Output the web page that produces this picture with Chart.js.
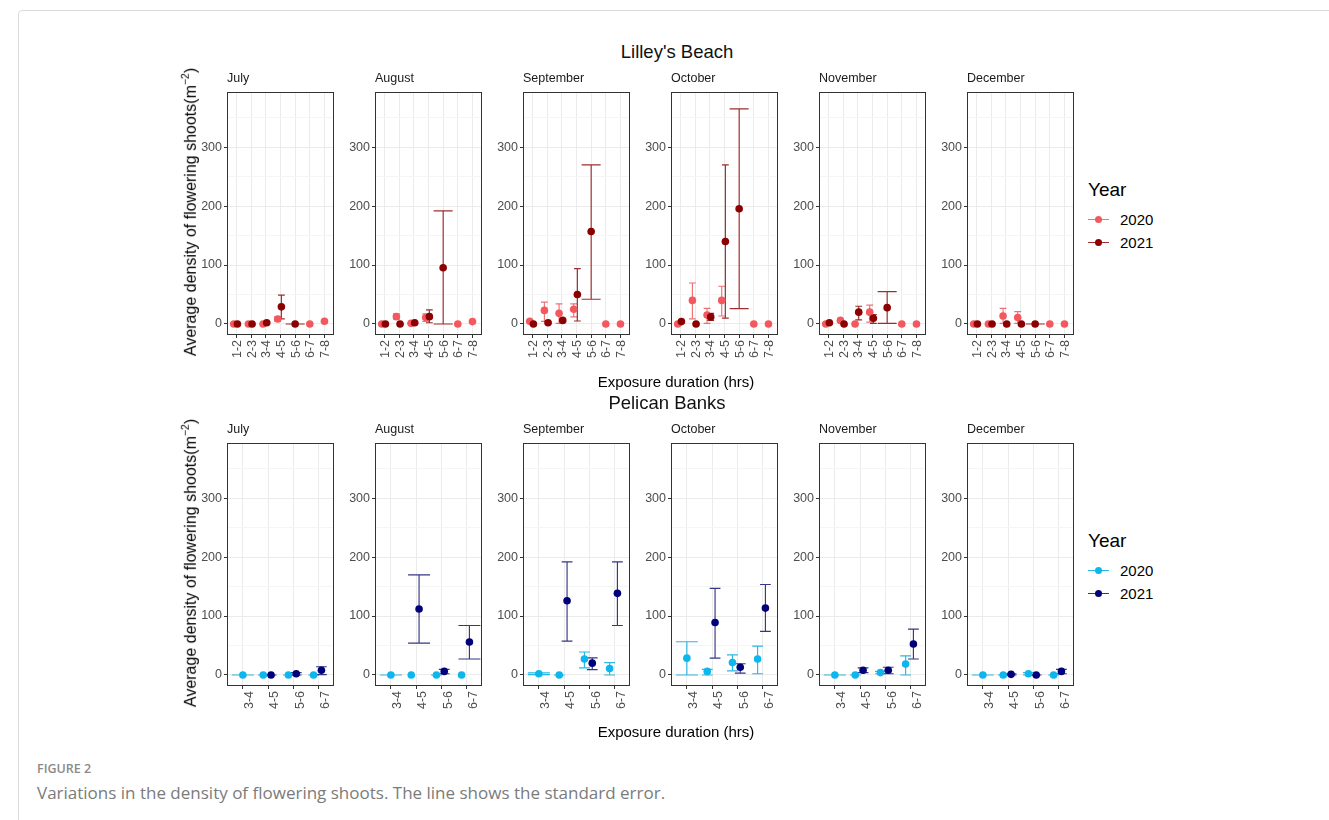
<!DOCTYPE html>
<html>
<head>
<meta charset="utf-8">
<title>Flowering shoot density</title>
<script src="https://cdn.jsdelivr.net/npm/chart.js@4.4.1/dist/chart.umd.min.js"></script>
<style>
  html, body { margin: 0; padding: 0; background: #fff; }
  body { width: 1329px; height: 820px; position: relative; overflow: hidden;
         font-family: "Liberation Sans", Arial, sans-serif; }
  .frame { position: absolute; left: 18px; top: 10px; width: 1400px; height: 900px;
           border: 1px solid #dcdcdc; border-radius: 4px; }
  .t { position: absolute; white-space: nowrap; line-height: 1; color: #000; }
  .site { font-size: 18.5px; color: #111; }
  .strip { font-size: 12.5px; color: #1a1a1a; }
  .axtitle { font-size: 15px; color: #000; }
  .ytitle { font-size: 16px; color: #000; }
  .ytitle sup { font-size: 10.5px; position: relative; top: -1px; }
  .legtitle { font-size: 19px; color: #000; }
  .legitem { font-size: 15px; color: #000; }
  .key { position: absolute; width: 21px; height: 10px; transform: translate(0,-50%); }
  .key .ln { position: absolute; left: 0; right: 0; top: 4.5px; height: 1.2px; }
  .key .dot { position: absolute; left: 7px; top: 1.5px; width: 7px; height: 7px; border-radius: 50%; }
  .figlab { font-family: "Open Sans", sans-serif; font-size: 12.5px; font-weight: 600; color: #8a8a8a; }
  .caption { font-family: "Open Sans", sans-serif; font-size: 17px; font-weight: 400; color: #7b7b7b; }
  .panel { position: absolute; }
</style>
</head>
<body>
<div class="frame"></div>
<script>
// ---- categories -----------------------------------------------------------
const months = ['July', 'August', 'September', 'October', 'November', 'December'];
const lilleyDurations = ['1-2', '2-3', '3-4', '4-5', '5-6', '6-7', '7-8'];
const pelicanDurations = ['3-4', '4-5', '5-6', '6-7'];
const years = ['2020', '2021'];
const yTickValues = [0, 100, 200, 300];
const yMinorValues = [50, 150, 250, 350];

// ---- Lilley's Beach: mean density (m^-2), one row per month --------------
const lilley2020Mean = [
  [0, 0, 0, 8.5, null, 0, 4.5],
  [0, 12.4, 1, 11, null, 0, 4],
  [4.5, 23, 18, 25, null, 0, 0],
  [0, 40, 15, 40, null, 0, 0],
  [0, 6, 0, 20, null, 0, 0],
  [0, 0, 13.5, 11, null, 0, 0]
];
const lilley2020Low = [
  [0, 0, 0, 4.5, null, null, null],
  [0, 8, 0, 4.5, null, null, null],
  [3, 4.5, 1, 12, null, null, null],
  [0, 8.5, 1, 13.5, null, null, null],
  [0, 4, 0, 3, null, null, null],
  [0, 0, 1, 1, null, null, null]
];
const lilley2020High = [
  [0, 0, 0, 12.5, null, null, null],
  [0, 17, 2, 17, null, null, null],
  [6, 37, 34, 34, null, null, null],
  [0, 69.5, 26.5, 64, null, null, null],
  [0, 8, 0, 32, null, null, null],
  [0, 0, 26.5, 21, null, null, null]
];
const lilley2021Mean = [
  [0, 0, 2, 29, 0, null, null],
  [0, 0, 2, 12.4, 95.5, null, null],
  [0, 2, 6, 50, 157, null, null],
  [4, 0, 12, 140, 195.5, null, null],
  [2, 0, 20, 9.6, 27.7, null, null],
  [0, 0, 0, 0, 0, null, null]
];
const lilley2021Low = [
  [0, 0, 1, 8.5, 0, null, null],
  [0, 0, 1, 2, 0, null, null],
  [0, 1, 4, 5, 42, null, null],
  [2, 0, 6, 10, 26, null, null],
  [1, 0, 7, 1, 1, null, null],
  [0, 0, 0, 0, 0, null, null]
];
const lilley2021High = [
  [0, 0, 4, 49, 0, null, null],
  [0, 0, 3, 24, 192, null, null],
  [0, 4, 8, 94, 270, null, null],
  [6, 0, 18, 270, 365, null, null],
  [3, 0, 30, 16, 55, null, null],
  [0, 0, 0, 0, 0, null, null]
];

// ---- Pelican Banks: mean density (m^-2), one row per month ---------------
const pelican2020Mean = [
  [0, 0, 0, 0],
  [0, 0, 0, 0],
  [2, 0, 27, 11],
  [28.5, 6, 21, 27],
  [0, 0, 4, 18.4],
  [0, 0, 2, 0]
];
const pelican2020Low = [
  [0, 0, 0, 0],
  [0, null, 0, null],
  [0.5, 0, 12, 0],
  [0, 0, 7, 2],
  [0, 0, 2, 0],
  [0, 0, 0, 0]
];
const pelican2020High = [
  [0, 0, 0, 0],
  [0, null, 0, null],
  [3.5, 0, 39, 21],
  [56.4, 9.5, 34, 49],
  [0, 0, 6, 32.4],
  [0, 0, 4, 0]
];
const pelican2021Mean = [
  [null, 0, 2, 8],
  [null, 112, 6, 56],
  [null, 126, 20, 138.5],
  [null, 89, 13, 113.5],
  [null, 8, 8, 52.5],
  [null, 1, 0, 6]
];
const pelican2021Low = [
  [null, 0, 0, 0.5],
  [null, 54, 2, 27],
  [null, 57.5, 9, 84],
  [null, 28.5, 3, 74],
  [null, 4, 2, 27],
  [null, 0, 0, 2]
];
const pelican2021High = [
  [null, 0, 4, 14],
  [null, 170, 9.5, 84],
  [null, 192, 29, 192],
  [null, 147, 19, 153.6],
  [null, 12, 13, 77.7],
  [null, 2, 0, 9.5]
];

// ---- styling & layout -----------------------------------------------------
const siteStyles = [
  { name: "Lilley's Beach", cats: lilleyDurations, boxTop: 92,
    colors: ['#f2585d', '#8b0000'], errColors: ['rgba(236,88,94,0.85)', 'rgba(139,10,10,0.85)'],
    dodge: [-0.19, 0.06], capPair: 3.4, capSolo: 9.5, xMin: 0.35, xMax: 7.65, labelOffset: 1,
    mean: [lilley2020Mean, lilley2021Mean], low: [lilley2020Low, lilley2021Low], high: [lilley2020High, lilley2021High],
    titleX: 677, titleY: 52, xTitleY: 381, legendY: 189 },
  { name: 'Pelican Banks', cats: pelicanDurations, boxTop: 443,
    colors: ['#0db6ec', '#00007a'], errColors: ['rgba(16,176,226,0.9)', 'rgba(20,20,110,0.85)'],
    dodge: [-0.19, 0.12], capPair: 5.4, capSolo: 11, xMin: 0.37, xMax: 4.62, labelOffset: 7,
    mean: [pelican2020Mean, pelican2021Mean], low: [pelican2020Low, pelican2021Low], high: [pelican2020High, pelican2021High],
    titleX: 667, titleY: 403, xTitleY: 731, legendY: 540 }
];
const boxLeft0 = 227, boxStep = 147.9, boxW = 107, boxH = 243;
const padL = 45, padR = 10, padT = 10, axisH = 40;
const yMin = -18.75, yMax = 393.75;
const tickFont = { family: '"Liberation Sans", Arial, sans-serif', size: 12.5 };

function addText(html, x, y, cls, transform) {
  const d = document.createElement('div');
  d.className = 't ' + cls;
  d.innerHTML = html;
  d.style.left = x + 'px';
  d.style.top = y + 'px';
  d.style.transform = transform;
  document.body.appendChild(d);
  return d;
}

// error bars are drawn underneath the points, straight from the scales
const errorBarPlugin = {
  id: 'errorBars',
  beforeDatasetsDraw(chart) {
    const { ctx, scales } = chart;
    const xs = scales.x, ys = scales.y;
    ctx.save();
    ctx.lineWidth = 1.15;
    chart.data.datasets.slice().reverse().forEach(ds => {
      ctx.strokeStyle = ds.errorColor;
      ds.errorBars.forEach(b => {
        const px = xs.getPixelForValue(b.x);
        const pl = ys.getPixelForValue(b.lo);
        const ph = ys.getPixelForValue(b.hi);
        ctx.beginPath();
        ctx.moveTo(px, pl); ctx.lineTo(px, ph);
        ctx.moveTo(px - b.half, ph); ctx.lineTo(px + b.half, ph);
        ctx.moveTo(px - b.half, pl); ctx.lineTo(px + b.half, pl);
        ctx.stroke();
      });
    });
    ctx.restore();
  }
};

// dark panel outline
const panelBorderPlugin = {
  id: 'panelBorder',
  afterDraw(chart) {
    const a = chart.chartArea, ctx = chart.ctx;
    ctx.save();
    ctx.strokeStyle = '#333';
    ctx.lineWidth = 1;
    ctx.strokeRect(Math.round(a.left) + 0.5, Math.round(a.top) + 0.5,
                   Math.round(a.right - a.left) - 1, Math.round(a.bottom - a.top) - 1);
    ctx.restore();
  }
};

function buildSeries(site, m) {
  const out = [0, 1].map(() => ({ points: [], bars: [] }));
  site.cats.forEach((c, i) => {
    const has = [0, 1].map(k => site.mean[k][m][i] != null);
    const hasBar = [0, 1].map(k => site.low[k][m][i] != null);
    const both = has[0] && has[1];
    [0, 1].forEach(k => {
      if (!has[k]) return;
      const x = i + 1 + (both ? site.dodge[k] : 0);
      out[k].points.push({ x, y: site.mean[k][m][i] });
      if (hasBar[k]) {
        out[k].bars.push({ x, lo: site.low[k][m][i], hi: site.high[k][m][i],
                           half: hasBar[1 - k] ? site.capPair : site.capSolo });
      }
    });
  });
  return out;
}

function makePanel(site, m) {
  const boxLeft = Math.round(boxLeft0 + m * boxStep);
  const canvas = document.createElement('canvas');
  canvas.className = 'panel';
  const W = padL + boxW + padR, H = padT + boxH + axisH;
  canvas.width = W; canvas.height = H;
  canvas.style.width = W + 'px'; canvas.style.height = H + 'px';
  canvas.style.left = (boxLeft - padL) + 'px';
  canvas.style.top = (site.boxTop - padT) + 'px';
  document.body.appendChild(canvas);

  addText(months[m], boxLeft, site.boxTop - 14, 'strip', 'translate(0,-50%)');

  const series = buildSeries(site, m);
  const datasets = [1, 0].map(k => ({
    label: years[k],
    data: series[k].points,
    errorBars: series[k].bars,
    errorColor: site.errColors[k],
    backgroundColor: site.colors[k],
    borderWidth: 0,
    pointRadius: 3.8,
    pointHoverRadius: 3.8
  }));

  new Chart(canvas, {
    type: 'scatter',
    data: { datasets },
    plugins: [errorBarPlugin, panelBorderPlugin],
    options: {
      responsive: false,
      animation: false,
      events: [],
      devicePixelRatio: 1,
      layout: { padding: { left: 0, right: padR, top: padT, bottom: 0 } },
      plugins: { legend: { display: false }, tooltip: { enabled: false } },
      scales: {
        x: {
          type: 'linear', min: site.xMin, max: site.xMax,
          afterFit: s => { s.height = axisH; },
          afterBuildTicks: s => { s.ticks = site.cats.map((c, i) => ({ value: i + 1 })); },
          ticks: {
            autoSkip: false, minRotation: 90, maxRotation: 90, padding: 2,
            labelOffset: site.labelOffset,
            color: '#4d4d4d', font: tickFont,
            callback: v => site.cats[Math.round(v) - 1]
          },
          grid: { color: '#ebebeb', lineWidth: 1, tickLength: 3, tickColor: '#333', tickWidth: 1 },
          border: { display: false }
        },
        y: {
          type: 'linear', min: yMin, max: yMax,
          afterFit: s => { s.width = padL; },
          afterBuildTicks: s => {
            s.ticks = yTickValues.concat(yMinorValues).sort((a, b) => a - b).map(v => ({ value: v }));
          },
          ticks: {
            padding: 2, color: '#4d4d4d', font: tickFont,
            callback: v => (yTickValues.includes(v) ? String(v) : '')
          },
          grid: {
            color: c => (yTickValues.includes(c.tick.value) ? '#ebebeb' : '#f5f5f5'),
            lineWidth: 1, tickLength: 3,
            tickColor: c => (yTickValues.includes(c.tick.value) ? '#333' : 'rgba(0,0,0,0)')
          },
          border: { display: false }
        }
      }
    }
  });
}

siteStyles.forEach(site => {
  addText(site.name, site.titleX, site.titleY, 'site', 'translate(-50%,-50%)');
  months.forEach((mo, m) => makePanel(site, m));
  addText('Average density of flowering shoots(m<sup>−2</sup>)', 190, site.boxTop + boxH / 2 - 2,
          'ytitle', 'translate(-50%,-50%) rotate(-90deg)');
  addText('Exposure duration (hrs)', 676, site.xTitleY, 'axtitle', 'translate(-50%,-50%)');

  // legend
  addText('Year', 1088, site.legendY, 'legtitle', 'translate(0,-50%)');
  years.forEach((yr, k) => {
    const cy = site.legendY + 30 + k * 23;
    const key = document.createElement('div');
    key.className = 'key';
    key.style.left = '1088px';
    key.style.top = cy + 'px';
    key.innerHTML = '<div class="ln" style="background:' + site.errColors[k] + '"></div>' +
                    '<div class="dot" style="background:' + site.colors[k] + '"></div>';
    document.body.appendChild(key);
    addText(yr, 1120, cy, 'legitem', 'translate(0,-50%)');
  });
});

addText('FIGURE 2', 37, 769, 'figlab', 'translate(0,-50%)');
addText('Variations in the density of flowering shoots. The line shows the standard error.', 37, 792,
        'caption', 'translate(0,-50%)');
</script>
</body>
</html>
